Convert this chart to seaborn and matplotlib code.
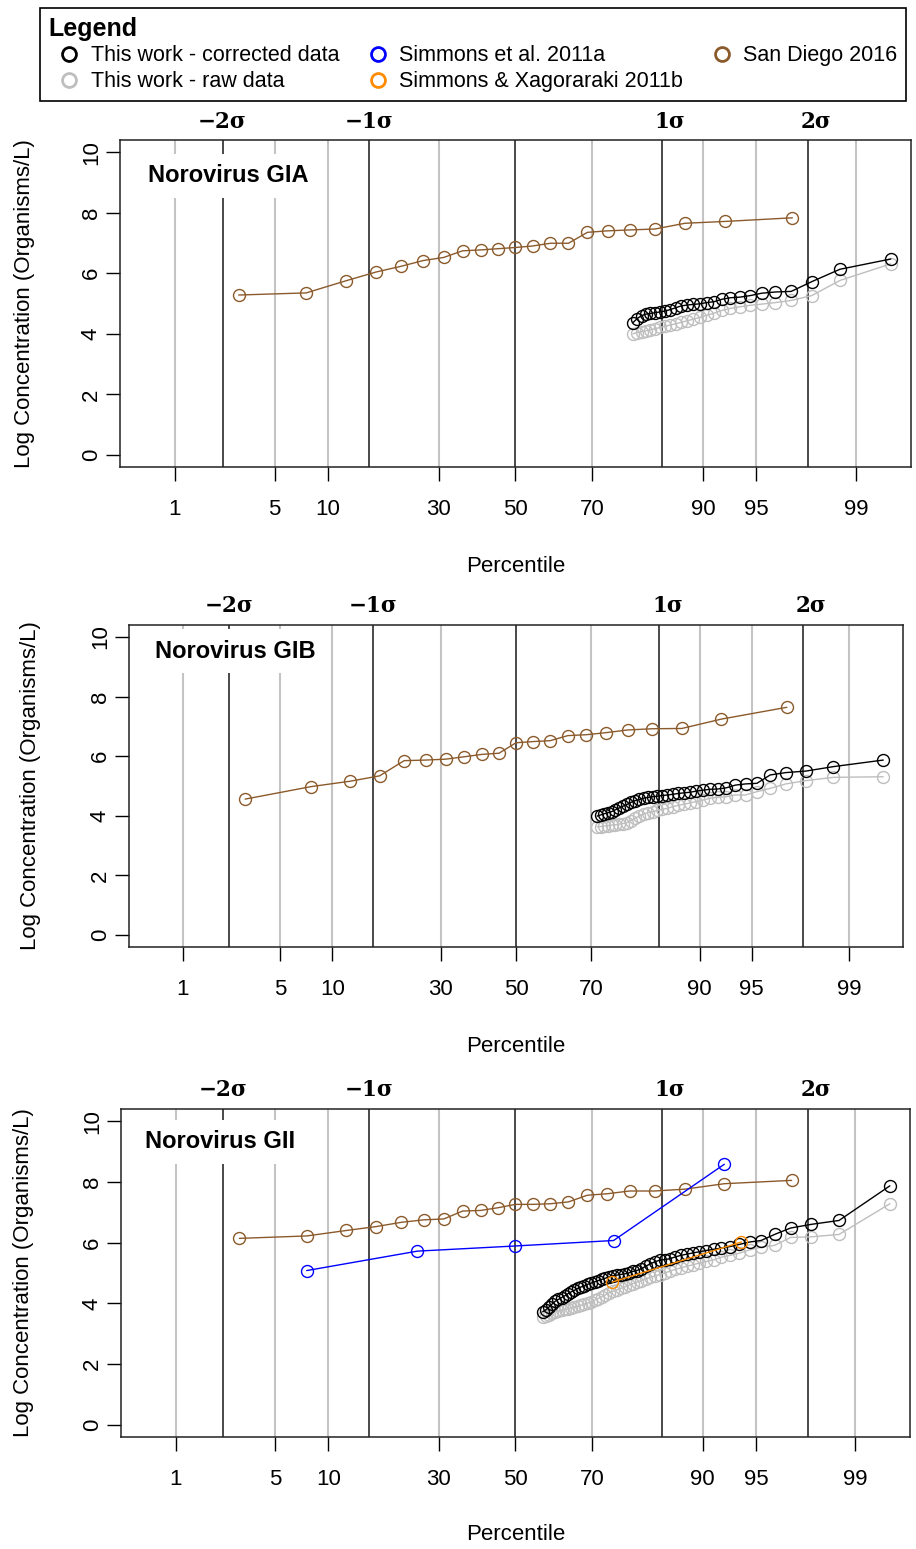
import numpy as np
import pandas as pd
import matplotlib
matplotlib.use("Agg")
import matplotlib.pyplot as plt
import matplotlib.transforms as mtransforms
from matplotlib.lines import Line2D
import seaborn as sns
from statistics import NormalDist

# ------------------------------------------------------------------ data
tick_pcts = [1, 5, 10, 30, 50, 70, 90, 95, 99]
tick_labels = ["1", "5", "10", "30", "50", "70", "90", "95", "99"]
grid_pcts = [1, 5, 10, 30, 70, 90, 95, 99]
sigma_levels = [-2, -1, 0, 1, 2]
sigma_labels = ["\u22122\u03c3", "\u22121\u03c3", "", "1\u03c3", "2\u03c3"]
y_ticks = [0, 2, 4, 6, 8, 10]
panel_titles = ["Norovirus GIA", "Norovirus GIB", "Norovirus GII"]
series_names = ["This work - corrected data", "This work - raw data",
                "Simmons et al. 2011a", "Simmons & Xagoraraki 2011b",
                "San Diego 2016"]

# plotting percentiles of this work's detected samples (ascending)
this_work_pct = [57.42, 58.25, 59.07, 59.90, 60.72, 61.55, 62.37, 63.20, 64.02, 64.85,
                 65.67, 66.49, 67.32, 68.14, 68.97, 69.79, 70.62, 71.44, 72.27, 73.09,
                 73.92, 74.74, 75.57, 76.39, 77.22, 78.04, 78.87, 79.69, 80.52, 81.34,
                 82.16, 82.99, 83.81, 84.64, 85.46, 86.29, 87.11, 87.94, 88.76, 89.59,
                 90.41, 91.24, 92.06, 92.89, 93.71, 94.54, 95.36, 96.19, 97.01, 97.84,
                 98.66, 99.48]

gia_corrected = [4.37, 4.50, 4.60, 4.65, 4.67, 4.70, 4.72, 4.75, 4.80, 4.86,
                 4.92, 4.95, 4.97, 4.99, 5.03, 5.06, 5.14, 5.19, 5.21, 5.26,
                 5.34, 5.38, 5.40, 5.72, 6.13, 6.47]
gia_raw = [4.00, 4.04, 4.07, 4.10, 4.13, 4.17, 4.21, 4.25, 4.29, 4.33,
           4.38, 4.43, 4.48, 4.54, 4.61, 4.68, 4.77, 4.84, 4.89, 4.94,
           4.98, 5.03, 5.10, 5.26, 5.76, 6.31]

gib_corrected = [3.99, 4.03, 4.07, 4.10, 4.14, 4.20, 4.26, 4.32, 4.38, 4.45,
                 4.51, 4.55, 4.59, 4.62, 4.64, 4.66, 4.68, 4.70, 4.72, 4.75,
                 4.77, 4.79, 4.83, 4.86, 4.89, 4.90, 4.94, 5.03, 5.07, 5.09,
                 5.37, 5.45, 5.50, 5.65, 5.87]
gib_raw = [3.63, 3.64, 3.66, 3.67, 3.69, 3.70, 3.72, 3.74, 3.77, 3.84,
           3.92, 3.99, 4.06, 4.11, 4.14, 4.18, 4.22, 4.25, 4.31, 4.35,
           4.39, 4.43, 4.48, 4.53, 4.59, 4.62, 4.64, 4.70, 4.70, 4.81,
           4.92, 5.07, 5.18, 5.29, 5.31]

gii_corrected = [3.73, 3.79, 3.88, 3.98, 4.07, 4.13, 4.19, 4.25, 4.32, 4.38,
                 4.43, 4.49, 4.54, 4.58, 4.63, 4.67, 4.71, 4.75, 4.79, 4.83,
                 4.87, 4.91, 4.93, 4.95, 4.97, 5.00, 5.05, 5.08, 5.14, 5.22,
                 5.30, 5.37, 5.42, 5.44, 5.47, 5.53, 5.58, 5.62, 5.66, 5.70,
                 5.74, 5.78, 5.82, 5.87, 5.94, 6.02, 6.07, 6.27, 6.48, 6.60,
                 6.73, 7.87]
gii_raw = [3.54, 3.58, 3.63, 3.68, 3.72, 3.75, 3.77, 3.80, 3.82, 3.85,
           3.88, 3.91, 3.94, 3.98, 4.01, 4.05, 4.11, 4.16, 4.22, 4.28,
           4.35, 4.40, 4.44, 4.49, 4.54, 4.59, 4.65, 4.70, 4.75, 4.80,
           4.86, 4.90, 4.95, 5.00, 5.06, 5.12, 5.17, 5.22, 5.27, 5.33,
           5.38, 5.43, 5.52, 5.58, 5.65, 5.76, 5.85, 5.91, 6.17, 6.19,
           6.27, 7.28]

san_diego_pct = [2.94, 7.65, 12.35, 17.06, 21.76, 26.47, 31.18, 35.88, 40.59, 45.29,
                 50.00, 54.71, 59.41, 64.12, 68.82, 73.53, 78.24, 82.94, 87.65, 92.35,
                 97.06]
gia_san_diego = [5.28, 5.35, 5.75, 6.04, 6.23, 6.42, 6.52, 6.74, 6.77, 6.81,
                 6.85, 6.90, 6.99, 6.99, 7.35, 7.40, 7.43, 7.46, 7.65, 7.71, 7.83]
gib_san_diego = [4.56, 4.98, 5.16, 5.34, 5.85, 5.87, 5.90, 5.98, 6.06, 6.10,
                 6.45, 6.49, 6.52, 6.69, 6.72, 6.79, 6.88, 6.92, 6.93, 7.24, 7.64]
gii_san_diego = [6.14, 6.22, 6.40, 6.53, 6.67, 6.75, 6.78, 7.04, 7.06, 7.15,
                 7.26, 7.26, 7.28, 7.34, 7.56, 7.61, 7.70, 7.70, 7.76, 7.94, 8.05]

simmons_a_pct = [7.65, 25.1, 50.0, 74.9, 92.35]
gii_simmons_a = [5.08, 5.72, 5.89, 6.07, 8.58]
simmons_b_pct = [74.6, 93.9]
gii_simmons_b = [4.70, 6.02]

# ------------------------------------------------------------------ style
sns.set_style("white")
plt.rcParams["font.family"] = ["Liberation Sans", "DejaVu Sans"]
plt.rcParams["axes.unicode_minus"] = True
plt.rcParams["text.color"] = "black"
plt.rcParams["axes.labelcolor"] = "black"
plt.rcParams["xtick.color"] = "black"
plt.rcParams["ytick.color"] = "black"

C_CORR = "#000000"
C_RAW = "#bebebe"
C_SIMA = "#0000ff"
C_SIMB = "#ff8c00"
C_SD = "#8b5a2b"

W, H = 916, 1549
# panel rectangles in pixels: left, top, right, bottom
panel_px = [(120, 140, 911, 467), (129, 625, 903, 947), (121, 1109, 910, 1437)]
title_px = [(148, 176), (155, 651), (145, 1142)]
sigma_y_px = [122, 606, 1090]
xlabel_y_px = [567, 1047, 1535]
ylabel_x_px = [25, 31, 24]

_nd = NormalDist()
_ppf = np.vectorize(lambda q: _nd.inv_cdf(q) if 0 < q < 1 else np.nan, otypes=[float])
_cdf = np.vectorize(lambda z: _nd.cdf(z) if np.isfinite(z) else np.nan, otypes=[float])


def pct_to_z(p):
    q = np.clip(np.asarray(p, dtype=float) / 100.0, 1e-12, 1 - 1e-12)
    return _ppf(q)


def z_to_pct(z):
    return 100.0 * _cdf(np.asarray(z, dtype=float))


XLIM_Z = 2.70

panels = [
    dict(raw=gia_raw, corr=gia_corrected, sd=gia_san_diego, sima=None, simb=None),
    dict(raw=gib_raw, corr=gib_corrected, sd=gib_san_diego, sima=None, simb=None),
    dict(raw=gii_raw, corr=gii_corrected, sd=gii_san_diego,
         sima=gii_simmons_a, simb=gii_simmons_b),
]

fig = plt.figure(figsize=(W / 100, H / 100), dpi=100)

line_kw = dict(marker="o", markersize=8.6, markerfacecolor="none",
               markeredgewidth=1.0, linewidth=1.0, estimator=None,
               errorbar=None, sort=False, legend=False)

for i, (spec, (l, t, r, b)) in enumerate(zip(panels, panel_px)):
    aw, ah = r - l, b - t
    ax = fig.add_axes([l / W, 1 - b / H, aw / W, ah / H])
    ax.set_xscale("function", functions=(pct_to_z, z_to_pct))
    ax.set_xlim(float(z_to_pct(-XLIM_Z)), float(z_to_pct(XLIM_Z)))
    ax.set_ylim(-0.4, 10.4)

    # reference lines
    for p in grid_pcts:
        ax.axvline(p, color="#c4c4c4", lw=1.5, zorder=1)
    for s in sigma_levels:
        ax.axvline(float(z_to_pct(s)), color="#2a2a2a", lw=1.2, zorder=1.1)

    # data series
    n = len(spec["raw"])
    sns.lineplot(x=this_work_pct[-n:], y=spec["raw"], ax=ax, color=C_RAW,
                 markeredgecolor=C_RAW, zorder=4, **line_kw)
    sns.lineplot(x=this_work_pct[-n:], y=spec["corr"], ax=ax, color=C_CORR,
                 markeredgecolor=C_CORR, zorder=5, **line_kw)
    sns.lineplot(x=san_diego_pct, y=spec["sd"], ax=ax, color=C_SD,
                 markeredgecolor=C_SD, zorder=6, **line_kw)
    if spec["sima"] is not None:
        sns.lineplot(x=simmons_a_pct, y=spec["sima"], ax=ax, color=C_SIMA,
                     markeredgecolor=C_SIMA, zorder=7, **line_kw)
    if spec["simb"] is not None:
        sns.lineplot(x=simmons_b_pct, y=spec["simb"], ax=ax, color=C_SIMB,
                     markeredgecolor=C_SIMB, zorder=8, **line_kw)

    # axes styling
    ax.set_xticks(tick_pcts)
    ax.set_xticklabels(tick_labels)
    ax.xaxis.set_minor_locator(matplotlib.ticker.NullLocator())
    ax.set_yticks(y_ticks)
    ax.set_yticklabels([str(v) for v in y_ticks])
    ax.tick_params(axis="x", direction="out", length=10, width=1.0, pad=13,
                   labelsize=16, colors="black", bottom=True)
    ax.tick_params(axis="y", direction="out", length=10, width=1.0, pad=3,
                   labelsize=16, colors="black", left=True)
    for lbl in ax.get_yticklabels():
        lbl.set_rotation(90)
        lbl.set_va("center")
    for sp in ax.spines.values():
        sp.set_color("#222222")
        sp.set_linewidth(1.1)
        sp.set_zorder(2.5)

    ax.set_xlabel("Percentile", fontsize=16, color="black")
    ax.xaxis.label.set_va("center")
    ax.xaxis.set_label_coords(0.5, (b - xlabel_y_px[i]) / ah)
    ax.set_ylabel("Log Concentration (Organisms/L)", fontsize=16, color="black")
    ax.yaxis.label.set_va("center")
    ax.yaxis.set_label_coords((ylabel_x_px[i] - l) / aw, 0.5)

    # sigma labels on top
    for s, lab in zip(sigma_levels, sigma_labels):
        if not lab:
            continue
        trans = ax.get_xaxis_transform()
        if s > 0:
            trans = mtransforms.offset_copy(trans, fig=fig, x=8, units="dots")
        ax.text(float(z_to_pct(s)), (b - sigma_y_px[i]) / ah, lab, transform=trans,
                ha="center", va="center", fontsize=15.5, fontweight="bold",
                color="black", family=["DejaVu Serif", "DejaVu Sans"], clip_on=False)

    # panel title with white background hiding the guide lines
    tx, ty = title_px[i]
    ax.text((tx - l) / aw, (b - ty) / ah, panel_titles[i], transform=ax.transAxes,
            ha="left", va="center", fontsize=17, fontweight="bold", color="black",
            bbox=dict(facecolor="white", edgecolor="none", boxstyle="square,pad=0.45"),
            zorder=2.2)

# ------------------------------------------------------------------ legend
legend_colors = [C_CORR, C_RAW, C_SIMA, C_SIMB, C_SD]
handles = [Line2D([0], [0], marker="o", linestyle="none", markerfacecolor="none",
                  markeredgecolor=c, markeredgewidth=2.0, markersize=10)
           for c in legend_colors]
leg = fig.legend(handles, series_names, loc="upper left",
                 bbox_to_anchor=(40 / W, 1 - 102 / H, 866 / W, 94 / H),
                 mode="expand", ncol=3, borderaxespad=0, fontsize=15.5,
                 title="Legend", title_fontproperties={"weight": "bold", "size": 18},
                 alignment="left", frameon=True, fancybox=False, framealpha=1,
                 handlelength=1.9, handletextpad=0.05, labelspacing=0.22,
                 borderpad=0.4, columnspacing=0.3)
leg.get_frame().set_edgecolor("black")
leg.get_frame().set_linewidth(1.2)
for txt in leg.get_texts():
    txt.set_color("black")
leg.get_title().set_color("black")

fig.savefig("out.png", dpi=100)
